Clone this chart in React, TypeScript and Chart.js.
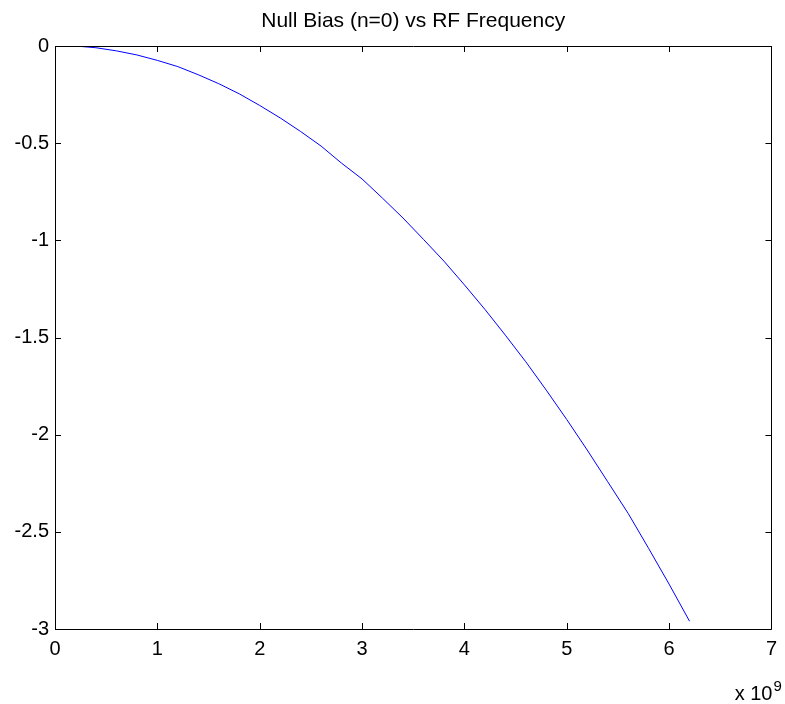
import React, { useEffect, useRef } from "react";
import { Chart, registerables } from "chart.js";

Chart.register(...registerables);

// RF frequency samples (Hz) and the measured null bias at each one
const frequencyHz = [
  0.2e9, 0.4e9, 0.6e9, 0.8e9, 1.0e9, 1.2e9, 1.4e9, 1.6e9, 1.8e9, 2.0e9,
  2.2e9, 2.4e9, 2.6e9, 2.8e9, 3.0e9, 3.2e9, 3.4e9, 3.6e9, 3.8e9, 4.0e9,
  4.2e9, 4.4e9, 4.6e9, 4.8e9, 5.0e9, 5.2e9, 5.4e9, 5.6e9, 5.8e9, 6.0e9,
  6.2e9,
];
const nullBias = [
  0.0, -0.009, -0.025, -0.046, -0.074, -0.106, -0.148, -0.194, -0.246, -0.306,
  -0.37, -0.44, -0.515, -0.603, -0.684, -0.783, -0.885, -0.995, -1.107, -1.229,
  -1.355, -1.488, -1.625, -1.771, -1.922, -2.079, -2.242, -2.405, -2.585, -2.769,
  -2.96,
];

const xTickValues = [0, 1e9, 2e9, 3e9, 4e9, 5e9, 6e9, 7e9];
const xTickLabels = ["0", "1", "2", "3", "4", "5", "6", "7"];
const yTickValues = [0, -0.5, -1, -1.5, -2, -2.5, -3];
const yTickLabels = ["0", "-0.5", "-1", "-1.5", "-2", "-2.5", "-3"];

const titleText = "Null Bias (n=0) vs RF Frequency";
const exponentBase = "x 10";
const exponentPower = "9";

const FONT = "'Liberation Sans', Arial, Helvetica, sans-serif";

// Boxed axes with inward tick marks on all four sides, plus title and exponent label
const frameBox = {
  id: "frameBox",
  afterDraw(chart: any) {
    const { ctx, chartArea } = chart;
    const { left, right, top, bottom } = chartArea;
    const xs = chart.scales.x;
    const ys = chart.scales.y;
    const tick = 6;
    ctx.save();
    ctx.strokeStyle = "#000";
    ctx.lineWidth = 1;
    ctx.beginPath();
    ctx.rect(Math.round(left) + 0.5, Math.round(top) + 0.5, Math.round(right - left), Math.round(bottom - top));
    for (const v of xTickValues) {
      const px = Math.round(xs.getPixelForValue(v)) + 0.5;
      ctx.moveTo(px, bottom);
      ctx.lineTo(px, bottom - tick);
      ctx.moveTo(px, top);
      ctx.lineTo(px, top + tick);
    }
    for (const v of yTickValues) {
      const py = Math.round(ys.getPixelForValue(v)) + 0.5;
      ctx.moveTo(left, py);
      ctx.lineTo(left + tick, py);
      ctx.moveTo(right, py);
      ctx.lineTo(right - tick, py);
    }
    ctx.stroke();

    ctx.fillStyle = "#000";
    ctx.textBaseline = "alphabetic";
    ctx.font = `21px ${FONT}`;
    ctx.textAlign = "center";
    ctx.fillText(titleText, (left + right) / 2, 27);

    ctx.font = `20px ${FONT}`;
    ctx.textAlign = "right";
    ctx.fillText(exponentBase, right + 1, 700);
    ctx.font = `15px ${FONT}`;
    ctx.textAlign = "left";
    ctx.fillText(exponentPower, right + 2, 691);
    ctx.restore();
  },
};

export default function App() {
  const canvasRef = useRef<HTMLCanvasElement | null>(null);

  useEffect(() => {
    const canvas = canvasRef.current;
    if (!canvas) return;
    const chart = new Chart(canvas, {
      type: "line",
      data: {
        datasets: [
          {
            data: frequencyHz.map((f, i) => ({ x: f, y: nullBias[i] })),
            borderColor: "#0000ff",
            borderWidth: 1,
            pointRadius: 0,
            tension: 0,
            fill: false,
          },
        ],
      },
      options: {
        responsive: false,
        animation: false,
        devicePixelRatio: 1,
        layout: { padding: { top: 46, right: 9, left: 0, bottom: 0 } },
        plugins: {
          legend: { display: false },
          tooltip: { enabled: false },
          title: { display: false },
        },
        scales: {
          x: {
            type: "linear",
            min: 0,
            max: 7e9,
            afterBuildTicks: (scale: any) => {
              scale.ticks = xTickValues.map((value) => ({ value }));
            },
            afterFit: (scale: any) => {
              scale.height = 75;
            },
            grid: { display: false, drawTicks: false },
            border: { display: false },
            ticks: {
              padding: 8,
              color: "#000",
              font: { family: FONT, size: 20 },
              maxRotation: 0,
              autoSkip: false,
              callback: (value: any) => {
                const i = xTickValues.indexOf(Number(value));
                return i >= 0 ? xTickLabels[i] : "";
              },
            },
          },
          y: {
            type: "linear",
            min: -3,
            max: 0,
            afterBuildTicks: (scale: any) => {
              scale.ticks = yTickValues.map((value) => ({ value }));
            },
            afterFit: (scale: any) => {
              scale.width = 55;
            },
            grid: { display: false, drawTicks: false },
            border: { display: false },
            ticks: {
              padding: 6,
              color: "#000",
              font: { family: FONT, size: 20 },
              autoSkip: false,
              callback: (value: any) => {
                const i = yTickValues.indexOf(Number(value));
                return i >= 0 ? yTickLabels[i] : "";
              },
            },
          },
        },
      },
      plugins: [frameBox],
    });
    return () => chart.destroy();
  }, []);

  return (
    <div style={{ position: "absolute", left: 0, top: 0, width: 785, height: 704, background: "#fff" }}>
      <canvas ref={canvasRef} width={785} height={704} />
    </div>
  );
}
